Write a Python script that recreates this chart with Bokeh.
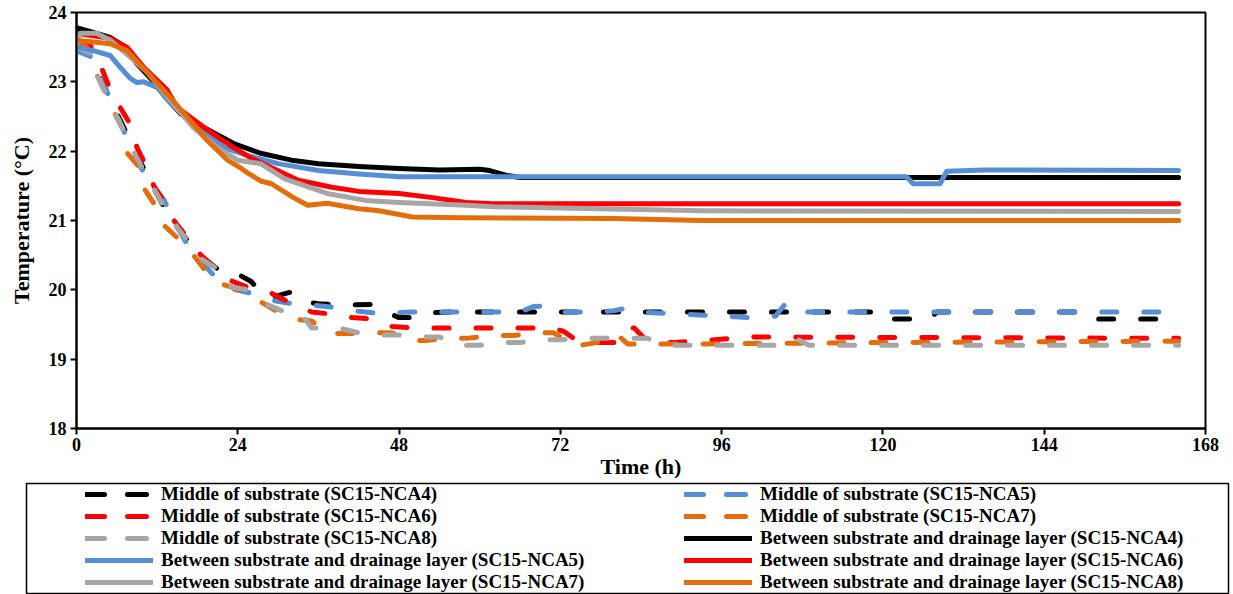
from bokeh.plotting import figure
from bokeh.models import Range1d, FixedTicker, Legend, LegendItem
from bokeh.layouts import column, row
from bokeh.embed import file_html
from bokeh.resources import INLINE

# ---------------- data ----------------
x_ticks = [0, 24, 48, 72, 96, 120, 144, 168]
y_ticks = [18, 19, 20, 21, 22, 23, 24]

# Middle of substrate (dashed)
t_mid4 = [0, 1.5, 2.5, 3.5, 5, 7, 9, 11, 13, 15, 17, 19, 21, 23, 24.5, 26, 27.5, 29, 30.5, 32, 34, 36, 40, 44, 46, 48, 50, 53, 56, 70, 90, 120, 121, 127, 128, 149, 150, 164]
T_mid4 = [23.5, 23.45, 23.35, 23.05, 22.75, 22.35, 21.95, 21.55, 21.2, 20.9, 20.65, 20.45, 20.3, 20.2, 20.2, 20.12, 19.95, 19.88, 19.93, 19.97, 19.83, 19.8, 19.78, 19.79, 19.68, 19.6, 19.6, 19.67, 19.68, 19.68, 19.68, 19.68, 19.58, 19.58, 19.68, 19.68, 19.58, 19.58]

t_mid5 = [0, 2.5, 3.5, 5, 7, 9, 11, 13, 14.5, 16.5, 18.5, 20, 21.5, 23, 26, 29, 32, 35, 38, 41, 44, 47, 50, 60, 66, 68, 70, 72, 78, 80, 82, 84, 92, 98, 100, 104, 105.5, 107.5, 164]
T_mid5 = [23.45, 23.35, 23.1, 22.75, 22.3, 21.85, 21.55, 21.3, 21.0, 20.65, 20.42, 20.25, 20.12, 20.02, 19.95, 19.85, 19.8, 19.78, 19.75, 19.7, 19.67, 19.67, 19.68, 19.68, 19.68, 19.76, 19.77, 19.68, 19.68, 19.7, 19.74, 19.68, 19.64, 19.61, 19.6, 19.62, 19.8, 19.68, 19.68]

t_mid6 = [0, 2.5, 3.9, 5.5, 6.5, 8.3, 9, 10.5, 11.5, 13.5, 14.5, 16.5, 18.5, 21, 23, 26.5, 29, 32, 35, 38, 41, 44, 47, 50, 60, 71, 72.5, 74, 77, 80, 81.5, 83, 84.5, 86, 89, 95, 100, 164]
T_mid6 = [23.55, 23.5, 23.16, 22.77, 22.63, 22.34, 22.05, 21.76, 21.5, 21.2, 21.0, 20.75, 20.5, 20.28, 20.13, 20.0, 19.95, 19.8, 19.68, 19.65, 19.6, 19.58, 19.47, 19.45, 19.45, 19.45, 19.4, 19.3, 19.24, 19.24, 19.45, 19.45, 19.3, 19.24, 19.24, 19.28, 19.32, 19.3]

t_mid7 = [0, 1.5, 2.8, 4, 5.4, 7, 7.3, 9.5, 9.8, 11.5, 12.8, 15, 17, 19, 21, 23.4, 27, 30, 32, 35, 37.5, 40.5, 44, 47, 49, 52, 55, 58, 62, 65, 68, 71, 72.5, 73.5, 75, 78, 79.5, 80.5, 82, 85, 93, 120, 164]
T_mid7 = [23.55, 23.5, 23.15, 22.9, 22.6, 22.3, 22.0, 21.75, 21.5, 21.25, 20.95, 20.75, 20.55, 20.3, 20.1, 20.03, 19.85, 19.68, 19.58, 19.55, 19.37, 19.37, 19.38, 19.38, 19.27, 19.27, 19.3, 19.3, 19.34, 19.34, 19.38, 19.38, 19.3, 19.2, 19.2, 19.25, 19.35, 19.35, 19.22, 19.22, 19.22, 19.24, 19.26]

t_mid8 = [0, 2.5, 3.3, 4.6, 7, 9, 11, 13, 15, 17, 18.5, 21, 22.5, 25.5, 28, 31, 33.5, 35, 39, 42, 45, 48, 51, 54, 57, 60, 63, 66, 69, 72, 76, 79, 82, 85, 88, 91, 105, 107, 109, 164]
T_mid8 = [23.5, 23.4, 23.05, 22.78, 22.3, 21.9, 21.55, 21.2, 20.9, 20.65, 20.45, 20.3, 20.05, 20.0, 19.8, 19.68, 19.65, 19.45, 19.45, 19.38, 19.35, 19.35, 19.32, 19.32, 19.2, 19.2, 19.24, 19.24, 19.28, 19.28, 19.3, 19.3, 19.3, 19.3, 19.2, 19.2, 19.2, 19.3, 19.2, 19.2]

# Between substrate and drainage layer (solid)
t_bet4 = [0, 3, 5, 7, 9, 11.5, 13.5, 15.5, 19, 23.4, 27.4, 32, 36, 42, 48, 54, 60, 61.5, 64, 66, 80, 110, 140, 164]
T_bet4 = [23.78, 23.7, 23.64, 23.52, 23.26, 23.0, 22.75, 22.54, 22.34, 22.11, 21.97, 21.87, 21.82, 21.78, 21.75, 21.73, 21.74, 21.72, 21.65, 21.62, 21.62, 21.62, 21.62, 21.62]

t_bet5 = [0, 2.5, 5, 6.5, 8, 9, 10, 12, 13.5, 15.5, 19, 22, 25.4, 30, 36, 42, 48, 60, 90, 123.5, 124.5, 128.5, 129.5, 135, 164]
T_bet5 = [23.5, 23.45, 23.38, 23.21, 23.05, 22.99, 23.0, 22.92, 22.75, 22.55, 22.3, 22.05, 21.94, 21.82, 21.72, 21.67, 21.63, 21.63, 21.63, 21.63, 21.53, 21.53, 21.71, 21.73, 21.72]

t_bet6 = [0, 5, 7.5, 10, 13.5, 15, 19, 23.4, 26, 29.3, 33, 38, 42, 48, 53, 58, 62, 90, 164]
T_bet6 = [23.7, 23.63, 23.5, 23.21, 22.88, 22.63, 22.34, 22.05, 21.9, 21.75, 21.58, 21.48, 21.42, 21.39, 21.33, 21.26, 21.24, 21.24, 21.24]

t_bet7 = [0, 0.6, 3, 5, 7.5, 10.5, 14, 17.4, 21, 24, 27.4, 31, 37.3, 43, 48, 58, 62, 93, 164]
T_bet7 = [23.55, 23.7, 23.7, 23.6, 23.4, 23.14, 22.73, 22.34, 22.05, 21.87, 21.82, 21.6, 21.39, 21.29, 21.26, 21.22, 21.2, 21.14, 21.13]

t_bet8 = [0, 5, 7.5, 10.5, 14, 16.5, 19.5, 22.5, 24.4, 25.4, 27.4, 29, 32.3, 34.4, 37.3, 42, 45, 50, 57, 80, 93, 164]
T_bet8 = [23.6, 23.55, 23.45, 23.14, 22.77, 22.49, 22.15, 21.87, 21.76, 21.69, 21.57, 21.53, 21.33, 21.22, 21.25, 21.17, 21.14, 21.05, 21.04, 21.03, 21.0, 21.0]

labels = [
    "Middle of substrate (SC15-NCA4)",
    "Middle of substrate (SC15-NCA5)",
    "Middle of substrate (SC15-NCA6)",
    "Middle of substrate (SC15-NCA7)",
    "Middle of substrate (SC15-NCA8)",
    "Between substrate and drainage layer (SC15-NCA4)",
    "Between substrate and drainage layer (SC15-NCA5)",
    "Between substrate and drainage layer (SC15-NCA6)",
    "Between substrate and drainage layer (SC15-NCA7)",
    "Between substrate and drainage layer (SC15-NCA8)",
]
colors = ["#000000", "#558ED5", "#FF0000", "#E46C0A", "#A6A6A6",
          "#000000", "#558ED5", "#FF0000", "#A6A6A6", "#E46C0A"]
dashed = [True] * 5 + [False] * 5
xs = [t_mid4, t_mid5, t_mid6, t_mid7, t_mid8, t_bet4, t_bet5, t_bet6, t_bet7, t_bet8]
ys = [T_mid4, T_mid5, T_mid6, T_mid7, T_mid8, T_bet4, T_bet5, T_bet6, T_bet7, T_bet8]

FONT = "Liberation Serif"

# ---------------- chart ----------------
p = figure(width=1233, height=482, x_range=Range1d(0, 168), y_range=Range1d(18, 24),
           output_backend="svg", toolbar_location=None,
           min_border_left=76, min_border_right=28, min_border_top=12, min_border_bottom=54)
p.outline_line_color = "black"
p.outline_line_width = 2
p.xgrid.visible = False
p.ygrid.visible = False

for i in range(10):
    if dashed[i]:
        p.line(xs[i], ys[i], line_color=colors[i], line_width=5, line_dash="15 27",
               line_cap="round", line_join="round")
    else:
        p.line(xs[i], ys[i], line_color=colors[i], line_width=5,
               line_cap="round", line_join="round")

p.xaxis.ticker = FixedTicker(ticks=x_ticks)
p.yaxis.ticker = FixedTicker(ticks=y_ticks)
for ax in (p.xaxis[0], p.yaxis[0]):
    ax.axis_line_width = 2
    ax.axis_line_color = "black"
    ax.major_tick_line_width = 2
    ax.major_tick_line_color = "black"
    ax.major_tick_out = 6
    ax.major_tick_in = 0
    ax.minor_tick_out = 0
    ax.minor_tick_in = 0
    ax.major_label_text_font = FONT
    ax.major_label_text_font_style = "bold"
    ax.major_label_text_font_size = "18px"
    ax.major_label_text_color = "black"
    ax.axis_label_text_font = FONT
    ax.axis_label_text_font_style = "bold"
    ax.axis_label_text_font_size = "22px"
    ax.axis_label_text_color = "black"
p.xaxis.axis_label = "Time (h)"
p.yaxis.axis_label = "Temperature (°C)"
p.xaxis.major_label_standoff = 3
p.xaxis.axis_label_standoff = 0
p.yaxis.major_label_standoff = 4
p.yaxis.axis_label_standoff = 12

# ---------------- legend panel (framed box below the chart) ----------------
# the legend's proxy lines use the same series, but the panel's ranges keep them out of view
lf = figure(width=1233, height=112, x_range=Range1d(-2, -1), y_range=Range1d(-2, -1),
            x_axis_type=None, y_axis_type=None,
            output_backend="svg", toolbar_location=None,
            min_border_left=26, min_border_right=5, min_border_top=1, min_border_bottom=1)
lf.xgrid.visible = False
lf.ygrid.visible = False
lf.outline_line_color = "black"
lf.outline_line_width = 1.5

proxies = []
for i in range(10):
    if dashed[i]:
        r = lf.line(xs[i], ys[i], line_color=colors[i], line_width=5, line_dash="19 23",
                    line_cap="round")
    else:
        r = lf.line(xs[i], ys[i], line_color=colors[i], line_width=5, line_cap="round")
    proxies.append(r)

left_items = [LegendItem(label=labels[i], renderers=[proxies[i]]) for i in (0, 2, 4, 6, 8)]
right_items = [LegendItem(label=labels[i], renderers=[proxies[i]]) for i in (1, 3, 5, 7, 9)]

for its, xoff in ((left_items, 59), (right_items, 658)):
    leg = Legend(items=its, location=(xoff, 0), orientation="vertical",
                 padding=0, margin=0, spacing=0,
                 glyph_width=68, glyph_height=22, label_height=22, label_standoff=8,
                 label_text_font=FONT, label_text_font_style="bold",
                 label_text_font_size="19px", label_text_color="black",
                 border_line_alpha=0, background_fill_alpha=0)
    lf.add_layout(leg, "center")

layout = column(p, row(lf), spacing=0)
open("out.html", "w").write(file_html(layout, INLINE))
